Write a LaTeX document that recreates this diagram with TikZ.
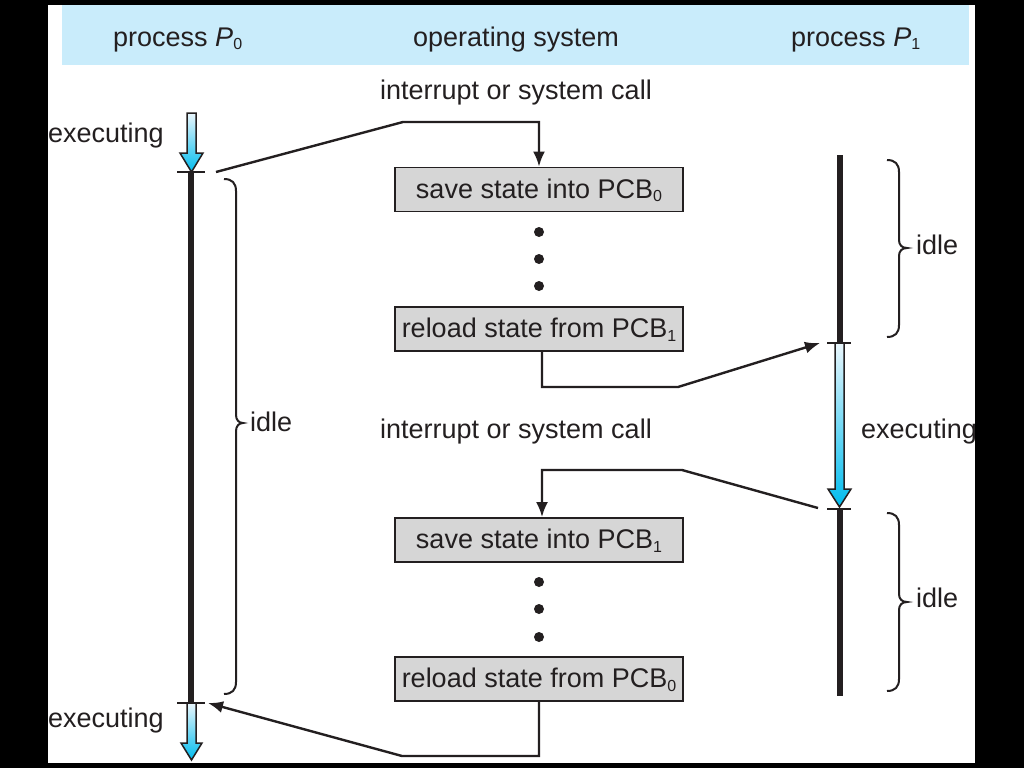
\documentclass[tikz,border=0pt]{standalone}
\usepackage{fontspec}
\setmainfont{Liberation Sans}
\usetikzlibrary{arrows.meta}
\definecolor{hdrblue}{HTML}{C9ECFB}
\definecolor{boxgray}{HTML}{D6D6D6}
\definecolor{ink}{HTML}{231F20}
\definecolor{exectop}{HTML}{EAF6FC}
\definecolor{execbot}{HTML}{00BCEE}
\newcommand\subsc[1]{\raisebox{-3.5pt}{\fontsize{16}{16}\selectfont #1}}
\tikzset{
  lbl/.style={inner sep=0pt, font=\fontsize{27}{32}\selectfont, text=ink},
  osbox/.style={draw=ink, line width=1.8pt, fill=boxgray, inner sep=0pt,
    minimum width=288pt, text height=30.5pt, text depth=13.5pt,
    font=\fontsize{27}{32}\selectfont, text=ink},
  conn/.style={draw=ink, line width=2.4pt, line join=miter},
  arr/.style={conn, -{Latex[length=15pt,width=12pt]}},
  timeline/.style={draw=ink, line width=6pt},
  tick/.style={draw=ink, line width=2pt},
  bracestyle/.style={draw=ink, line width=2pt},
  execarrow/.style={draw=ink, line width=1.5pt, top color=exectop, bottom color=execbot},
  dotstyle/.style={fill=ink}
}
\begin{document}
\begin{tikzpicture}[x=1pt,y=-1pt]
\useasboundingbox (0,0) rectangle (1024,768);
\fill[black] (0,0) rectangle (1024,768);
\fill[white] (48,5) rectangle (975,763);
\fill[hdrblue] (62,5) rectangle (969,65);

% header
\node[lbl, anchor=base west] (hP0) at (113,46) {process \textit{P}\subsc{0}};
\node[lbl, anchor=base] (hOS) at (516,46) {operating system};
\node[lbl, anchor=base west] (hP1) at (791,46) {process \textit{P}\subsc{1}};

% OS column
\node[lbl, anchor=base west] (int1) at (380,99) {interrupt or system call};
\node[osbox] (s0) at (539,189.5) {save state into PCB\subsc{0}};
\node[osbox] (r1) at (539,329) {reload state from PCB\subsc{1}};
\node[lbl, anchor=base west] (int2) at (380,438) {interrupt or system call};
\node[osbox] (s1) at (539,540) {save state into PCB\subsc{1}};
\node[osbox] (r0) at (539,679) {reload state from PCB\subsc{0}};

\foreach \y in {232,259,286,582,609,637}
  \fill[dotstyle] (539,\y) circle (5);

% process P0
\shade[execarrow] (187,113) -- (196,113) -- (196,153) -- (203,153) -- (191.5,172) -- (180,153) -- (187,153) -- cycle;
\draw[timeline] (191,172) -- (191,703);
\draw[tick] (177,172) -- (205,172);
\draw[tick] (177,703) -- (205,703);
\shade[execarrow] (187,703) -- (196,703) -- (196,743) -- (202,743) -- (191.5,760) -- (181,743) -- (187,743) -- cycle;
\node[lbl, anchor=base west] (ex1) at (48,142) {executing};
\node[lbl, anchor=base west] (ex2) at (48,727) {executing};
\draw[bracestyle] (224,179) .. controls (232,179) and (236,183) .. (236,191) -- (236,415)
  .. controls (236,420) and (239,423) .. (243,423) .. controls (239,423) and (236,426) .. (236,431)
  -- (236,682) .. controls (236,690) and (232,694) .. (224,694);
\node[lbl, anchor=base west] (idle0) at (250,431) {idle};

% process P1
\draw[timeline] (840,155) -- (840,343);
\draw[tick] (827,343) -- (851,343);
\shade[execarrow] (835,343) -- (844,343) -- (844,489) -- (851,489) -- (839.5,507) -- (828,489) -- (835,489) -- cycle;
\draw[tick] (827,509) -- (851,509);
\draw[timeline] (840,509) -- (840,696);
\node[lbl, anchor=base west] (ex3) at (861,438) {executing};
\draw[bracestyle] (887,160) .. controls (895,160) and (899,164) .. (899,172) -- (899,240)
  .. controls (899,245) and (902,248) .. (907,248) .. controls (902,248) and (899,251) .. (899,256)
  -- (899,325) .. controls (899,333) and (895,337) .. (887,337);
\node[lbl, anchor=base west] (idle1) at (916,254) {idle};
\draw[bracestyle] (887,513) .. controls (895,513) and (899,517) .. (899,525) -- (899,594)
  .. controls (899,599) and (902,602) .. (907,602) .. controls (902,602) and (899,605) .. (899,610)
  -- (899,679) .. controls (899,687) and (895,691) .. (887,691);
\node[lbl, anchor=base west] (idle2) at (916,607) {idle};

% connector points
\coordinate (c1) at (216,172);
\coordinate (k1) at (403,122);
\coordinate (k2) at (678,387);
\coordinate (p1a) at (820,343);
\coordinate (c3) at (818,508);
\coordinate (k3) at (682,470);
\coordinate (k4) at (402,756);
\coordinate (p0b) at (208,703);

\draw[arr] (c1) -- (k1) -| (s0.north);
\draw[arr] ([xshift=3pt]r1.south) |- (k2) -- (p1a);
\draw[arr] (c3) -- (k3) -| ([xshift=3pt]s1.north);
\draw[arr] (r0.south) |- (k4) -- (p0b);
\end{tikzpicture}
\end{document}
